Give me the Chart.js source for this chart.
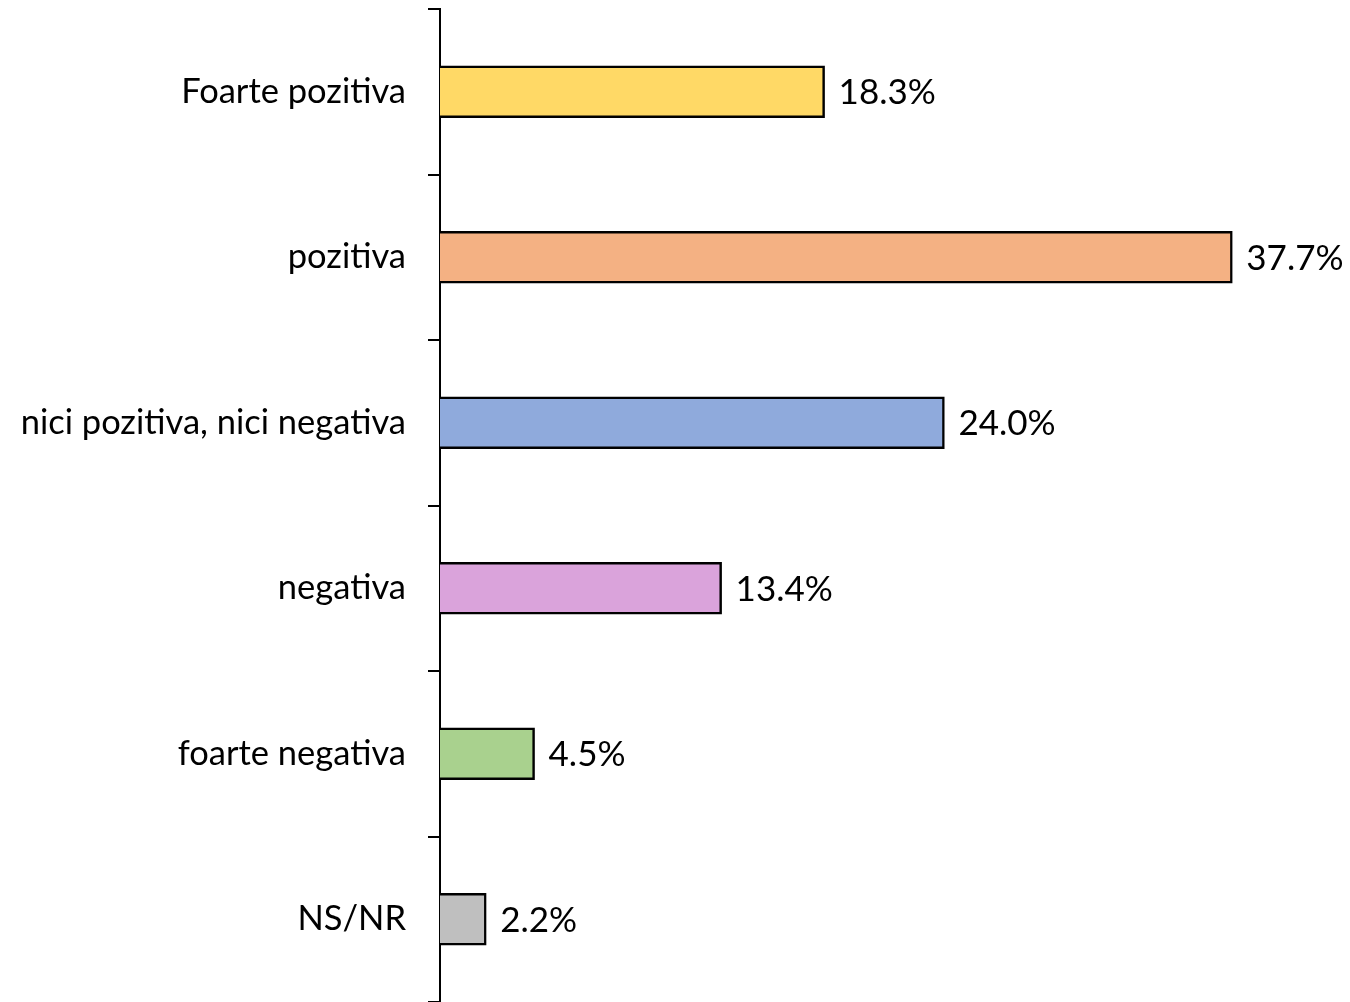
<!DOCTYPE html>
<html lang="ro">
<head>
    <meta charset="UTF-8">
    <title>Grafic</title>
    <style>
        body { margin: 0; background: #fff; }
        #wrap { width: 1350px; height: 1002px; }
    </style>
</head>
<body>
    <div id="wrap"><canvas id="chart" width="1350" height="1002"></canvas></div>

    <script src="https://cdn.jsdelivr.net/npm/chart.js"></script>
    <script>
        const categories = ['Foarte pozitiva', 'pozitiva', 'nici pozitiva, nici negativa', 'negativa', 'foarte negativa', 'NS/NR'];
        const values = [18.3, 37.7, 24.0, 13.4, 4.5, 2.2];
        const barColors = ['#FFD966', '#F4B183', '#8FAADC', '#DAA3DB', '#A9D18E', '#BFBFBF'];

        const fontFamily = 'Lato, "Open Sans", sans-serif';

        // etichete cu valori la capatul barelor
        const valueLabels = {
            id: 'valueLabels',
            afterDatasetsDraw(chart) {
                const c = chart.ctx;
                c.save();
                c.fillStyle = '#000';
                c.font = '35px ' + fontFamily;
                c.textBaseline = 'middle';
                c.textAlign = 'left';
                chart.getDatasetMeta(0).data.forEach((bar, i) => {
                    c.fillText(values[i].toFixed(1) + '%', bar.x + 14, bar.y + 1);
                });
                c.restore();
            }
        };

        new Chart(document.getElementById('chart'), {
            type: 'bar',
            data: {
                labels: categories,
                datasets: [{
                    data: values,
                    backgroundColor: barColors,
                    borderColor: '#000',
                    borderWidth: 2.5,
                    barThickness: 52
                }]
            },
            options: {
                indexAxis: 'y',
                responsive: false,
                animation: false,
                layout: { padding: { top: 9, right: 0, bottom: 0, left: 0 } },
                plugins: { legend: { display: false }, tooltip: { enabled: false } },
                scales: {
                    x: { display: false, min: 0, max: 43.3 },
                    y: {
                        afterFit(scale) {
                            scale.width = 440;
                            scale.paddingTop = 0;
                            scale.paddingBottom = 0;
                        },
                        border: { color: '#000', width: 2 },
                        grid: { drawOnChartArea: false, color: '#000', lineWidth: 2, tickLength: 12, offset: true },
                        ticks: { color: '#000', padding: 22, font: { size: 34.5, family: fontFamily } }
                    }
                }
            },
            plugins: [valueLabels]
        });
    </script>
</body>
</html>
